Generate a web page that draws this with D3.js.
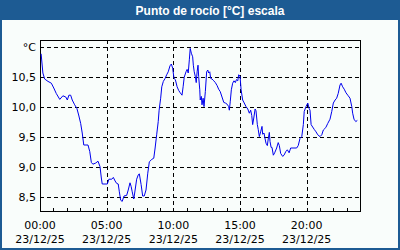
<!DOCTYPE html>
<html>
<head>
<meta charset="utf-8">
<script src="https://cdn.jsdelivr.net/npm/d3@7"></script>
<style>
  body { margin: 0; background: #fff; }
  svg { display: block; }
</style>
</head>
<body>
<svg id="chart"></svg>
<script>
// minutes since 00:00 on 23/12/25, dew point in °C
const minutes = [5, 13, 21, 36, 51, 62, 73, 89, 103, 116, 123, 130, 138, 145, 156, 166, 174, 183, 190, 197,
  216, 224, 231, 238, 251, 261, 270, 276, 280, 303, 310, 323, 330, 338, 345, 352, 357, 363, 370, 378,
  390, 397, 405, 410, 415, 422, 428, 435, 442, 447, 455, 462, 469, 477, 485, 492, 503, 512, 518, 525,
  532, 536, 543, 548, 555, 563, 570, 577, 585, 591, 597, 603, 609, 617, 624, 631, 639, 644, 649, 657,
  662, 667, 672, 676, 681, 687, 690, 694, 699, 703, 707, 711, 714, 719, 721, 726, 729, 734, 738, 744,
  750, 755, 759, 764, 768, 774, 782, 789, 797, 804, 811, 819, 827, 834, 842, 849, 852, 856, 861, 867,
  873, 879, 884, 890, 894, 900, 905, 912, 919, 927, 935, 942, 948, 953, 957, 962, 968, 972, 978, 982,
  987, 993, 999, 1002, 1008, 1013, 1017, 1023, 1027, 1032, 1035, 1040, 1044, 1050, 1056, 1065, 1072, 1077, 1083, 1092,
  1098, 1106, 1113, 1121, 1128, 1155, 1162, 1170, 1178, 1185, 1189, 1197, 1205, 1211, 1215, 1220, 1227, 1234, 1242, 1250,
  1260, 1268, 1275, 1286, 1295, 1305, 1313, 1320, 1328, 1335, 1342, 1350, 1355, 1362, 1369, 1377, 1385, 1395, 1403, 1407,
  1413, 1421, 1428];
const dewPoint = [10.89, 10.57, 10.47, 10.43, 10.40, 10.32, 10.23, 10.13, 10.19, 10.17, 10.12, 10.20, 10.20, 10.12, 10.04, 9.98, 9.87, 9.73, 9.57, 9.37,
  9.37, 9.26, 9.08, 9.05, 9.07, 9.10, 9.01, 8.82, 8.72, 8.72, 8.80, 8.80, 8.83, 8.77, 8.73, 8.72, 8.59, 8.45, 8.43, 8.52,
  8.53, 8.62, 8.74, 8.68, 8.59, 8.47, 8.62, 8.80, 8.87, 8.89, 8.71, 8.52, 8.52, 8.62, 8.90, 9.09, 9.13, 9.15, 9.32, 9.54,
  9.76, 9.95, 10.15, 10.34, 10.43, 10.48, 10.54, 10.59, 10.69, 10.72, 10.65, 10.48, 10.46, 10.34, 10.28, 10.24, 10.20, 10.34, 10.50, 10.59,
  10.63, 10.57, 10.79, 10.98, 10.90, 10.84, 10.70, 10.59, 10.51, 10.41, 10.59, 10.70, 10.51, 10.29, 10.12, 10.18, 10.04, 10.15, 10.01, 10.26,
  10.59, 10.62, 10.57, 10.59, 10.48, 10.47, 10.44, 10.41, 10.36, 10.30, 10.26, 10.17, 10.08, 10.07, 10.05, 10.01, 9.95, 10.09, 10.29, 10.40,
  10.44, 10.41, 10.46, 10.44, 10.54, 10.52, 10.29, 10.12, 10.07, 10.01, 9.97, 9.90, 9.95, 9.86, 9.71, 9.82, 9.97, 9.94, 9.71, 9.63,
  9.51, 9.59, 9.68, 9.55, 9.57, 9.47, 9.40, 9.36, 9.47, 9.58, 9.43, 9.33, 9.33, 9.20, 9.24, 9.32, 9.41, 9.36, 9.23, 9.18,
  9.20, 9.26, 9.29, 9.24, 9.32, 9.32, 9.36, 9.48, 9.51, 9.71, 9.93, 10.01, 10.07, 9.98, 9.95, 9.71, 9.67, 9.63, 9.59, 9.54,
  9.51, 9.54, 9.62, 9.66, 9.73, 9.80, 9.93, 10.07, 10.12, 10.15, 10.23, 10.37, 10.40, 10.34, 10.30, 10.24, 10.20, 10.15, 10.01, 9.90,
  9.80, 9.76, 9.78];

const yTicks = [8.5, 9.0, 9.5, 10.0, 10.5, 11.0];
const xTicks = [0, 5, 10, 15, 20];          // hours, labelled
const xTickLabels = ["00:00", "05:00", "10:00", "15:00", "20:00"];
const dateLabel = "23/12/25";
const title = "Punto de rocío [°C] escala";

const W = 400, H = 250;
const frame = "#1d5b93";
const margin = { top: 40, right: 40, bottom: 39, left: 40 };
const width = W - margin.left - margin.right;
const height = H - margin.top - margin.bottom;

const svg = d3.select("#chart").attr("width", W).attr("height", H)
  .style("font-family", "Tahoma, 'DejaVu Sans', sans-serif");

svg.append("rect").attr("width", W).attr("height", H).attr("fill", "#f9fdfb");
svg.append("rect").attr("x", 1).attr("y", 1).attr("width", W - 2).attr("height", H - 2)
  .attr("fill", "none").attr("stroke", frame).attr("stroke-width", 2);
svg.append("rect").attr("width", W).attr("height", 20).attr("fill", frame);
svg.append("text").attr("x", 210).attr("y", 14.5).attr("text-anchor", "middle")
  .attr("fill", "#fff").attr("font-weight", "bold").attr("font-size", "12px")
  .attr("font-family", "'Liberation Sans', Arial, sans-serif")
  .text(title);

const x = d3.scaleLinear().domain([0, 24 * 60]).range([0, width]);
const y = d3.scaleLinear().domain([8.27, 11.12]).range([height, 0]);

const g = svg.append("g").attr("transform", `translate(${margin.left},${margin.top})`);

// grid
g.append("g").selectAll("line").data(yTicks).join("line")
  .attr("x1", 0).attr("x2", width)
  .attr("y1", d => Math.round(y(d)) + 0.5).attr("y2", d => Math.round(y(d)) + 0.5)
  .attr("stroke", "#000").attr("stroke-dasharray", "4,3");
g.append("g").selectAll("line").data(xTicks.slice(1)).join("line")
  .attr("x1", d => Math.round(x(d * 60)) + 0.5).attr("x2", d => Math.round(x(d * 60)) + 0.5)
  .attr("y1", 0).attr("y2", height)
  .attr("stroke", "#000").attr("stroke-dasharray", "4,3");

// hourly ticks on the bottom edge
g.append("g").selectAll("line").data(d3.range(0, 25)).join("line")
  .attr("x1", d => Math.round(x(d * 60)) + 0.5).attr("x2", d => Math.round(x(d * 60)) + 0.5)
  .attr("y1", height).attr("y2", height - 3)
  .attr("stroke", "#000");

// border
g.append("rect").attr("x", 0.5).attr("y", 0.5).attr("width", width).attr("height", height)
  .attr("fill", "none").attr("stroke", "#000");

// y labels
g.append("g").selectAll("text").data(yTicks).join("text")
  .attr("x", -4).attr("y", d => y(d) + 4)
  .attr("text-anchor", "end").attr("font-size", "11px").attr("fill", "#000")
  .text(d => d === 11 ? "°C" : d3.format(".1f")(d).replace(".", ","));

// x labels
const xl = g.append("g").selectAll("text").data(xTicks).join("text")
  .attr("text-anchor", "middle").attr("font-size", "11px").attr("fill", "#000")
  .attr("transform", d => `translate(${x(d * 60)},${height})`);
xl.append("tspan").attr("x", 0).attr("y", 18).text((d, i) => xTickLabels[i]);
xl.append("tspan").attr("x", 0).attr("y", 32).text(dateLabel);

// line
const line = d3.line().x(d => x(d[0])).y(d => y(d[1]));
g.append("path").datum(d3.zip(minutes, dewPoint))
  .attr("d", line).attr("fill", "none").attr("stroke", "#0000ee").attr("stroke-width", 1);
</script>
</body>
</html>
